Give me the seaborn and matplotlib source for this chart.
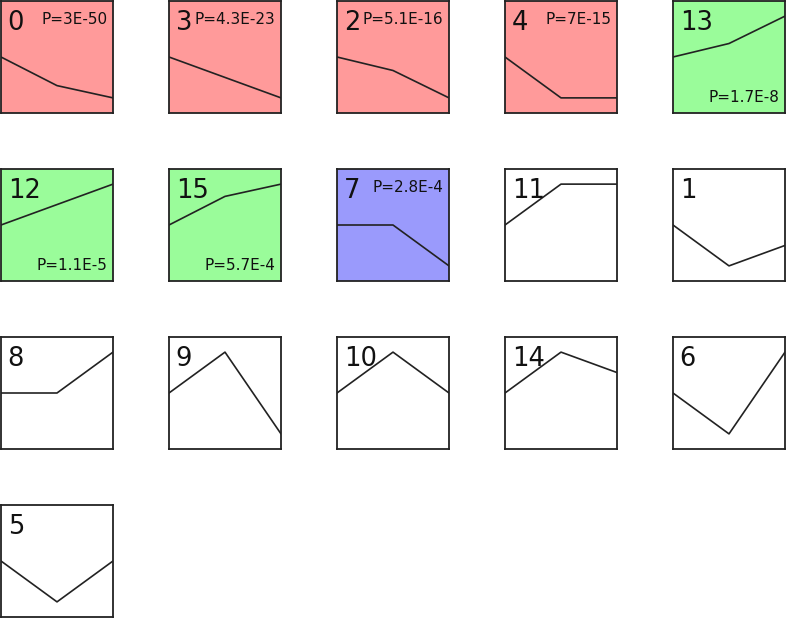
import matplotlib
matplotlib.use("Agg")
import matplotlib.pyplot as plt
import seaborn as sns
import pandas as pd

# =====================================================
# DATA
# =====================================================
cluster_ids = [0, 3, 2, 4, 13,
               12, 15, 7, 11, 1,
               8, 9, 10, 14, 6,
               5]
profiles = [
    [0, -0.7, -1.0], [0, -0.5, -1.0], [0, -0.33, -1.0], [0, -1.0, -1.0], [0, 0.33, 1.0],
    [0, 0.5, 1.0], [0, 0.7, 1.0], [0, 0.0, -1.0], [0, 1.0, 1.0], [0, -1.0, -0.5],
    [0, 0.0, 1.0], [0, 1.0, -1.0], [0, 1.0, 0.0], [0, 1.0, 0.5], [0, -1.0, 1.0],
    [0, -1.0, 0.0],
]
p_values = ["P=3E-50", "P=4.3E-23", "P=5.1E-16", "P=7E-15", "P=1.7E-8",
            "P=1.1E-5", "P=5.7E-4", "P=2.8E-4", None, None,
            None, None, None, None, None,
            None]
groups = ["down", "down", "down", "down", "up",
          "up", "up", "other", "ns", "ns",
          "ns", "ns", "ns", "ns", "ns",
          "ns"]
time_points = [0, 1, 2]

group_colors = {"down": "#ff9a9a", "up": "#9afc9a", "other": "#9a9afc", "ns": "white"}

# =====================================================
# STYLE / LAYOUT
# =====================================================
sns.set_style("white")
plt.rcParams["font.family"] = ["DejaVu Sans"]

W, H = 787, 620
fig = plt.figure(figsize=(W / 100, H / 100), dpi=100)

box = 112
col_x = [1, 169, 337, 505, 673]
row_y = [1, 169, 337, 505]

for k, cid in enumerate(cluster_ids):
    r, c = divmod(k, 5)
    ax = fig.add_axes([col_x[c] / W, 1 - (row_y[r] + box) / H, box / W, box / H])
    ax.set_facecolor(group_colors[groups[k]])

    df = pd.DataFrame({"t": time_points, "v": profiles[k]})
    sns.lineplot(data=df, x="t", y="v", ax=ax, color="#222222", linewidth=1.2)

    ax.set_xlim(0, 2)
    ax.set_ylim(-1.37, 1.37)
    ax.set_xticks([])
    ax.set_yticks([])
    ax.set_xlabel("")
    ax.set_ylabel("")
    for s in ax.spines.values():
        s.set_visible(True)
        s.set_color("#222222")
        s.set_linewidth(1.3)

    ax.text(0.06, 0.92, str(cid), transform=ax.transAxes, ha="left", va="top",
            fontsize=18.5, color="#111111")

    if p_values[k] is not None:
        if groups[k] == "up":
            ax.text(0.95, 0.07, p_values[k], transform=ax.transAxes, ha="right",
                    va="bottom", fontsize=11, color="#111111")
        else:
            ax.text(0.95, 0.90, p_values[k], transform=ax.transAxes, ha="right",
                    va="top", fontsize=11, color="#111111")

fig.savefig("out.png", dpi=100, facecolor="white")
plt.close(fig)
